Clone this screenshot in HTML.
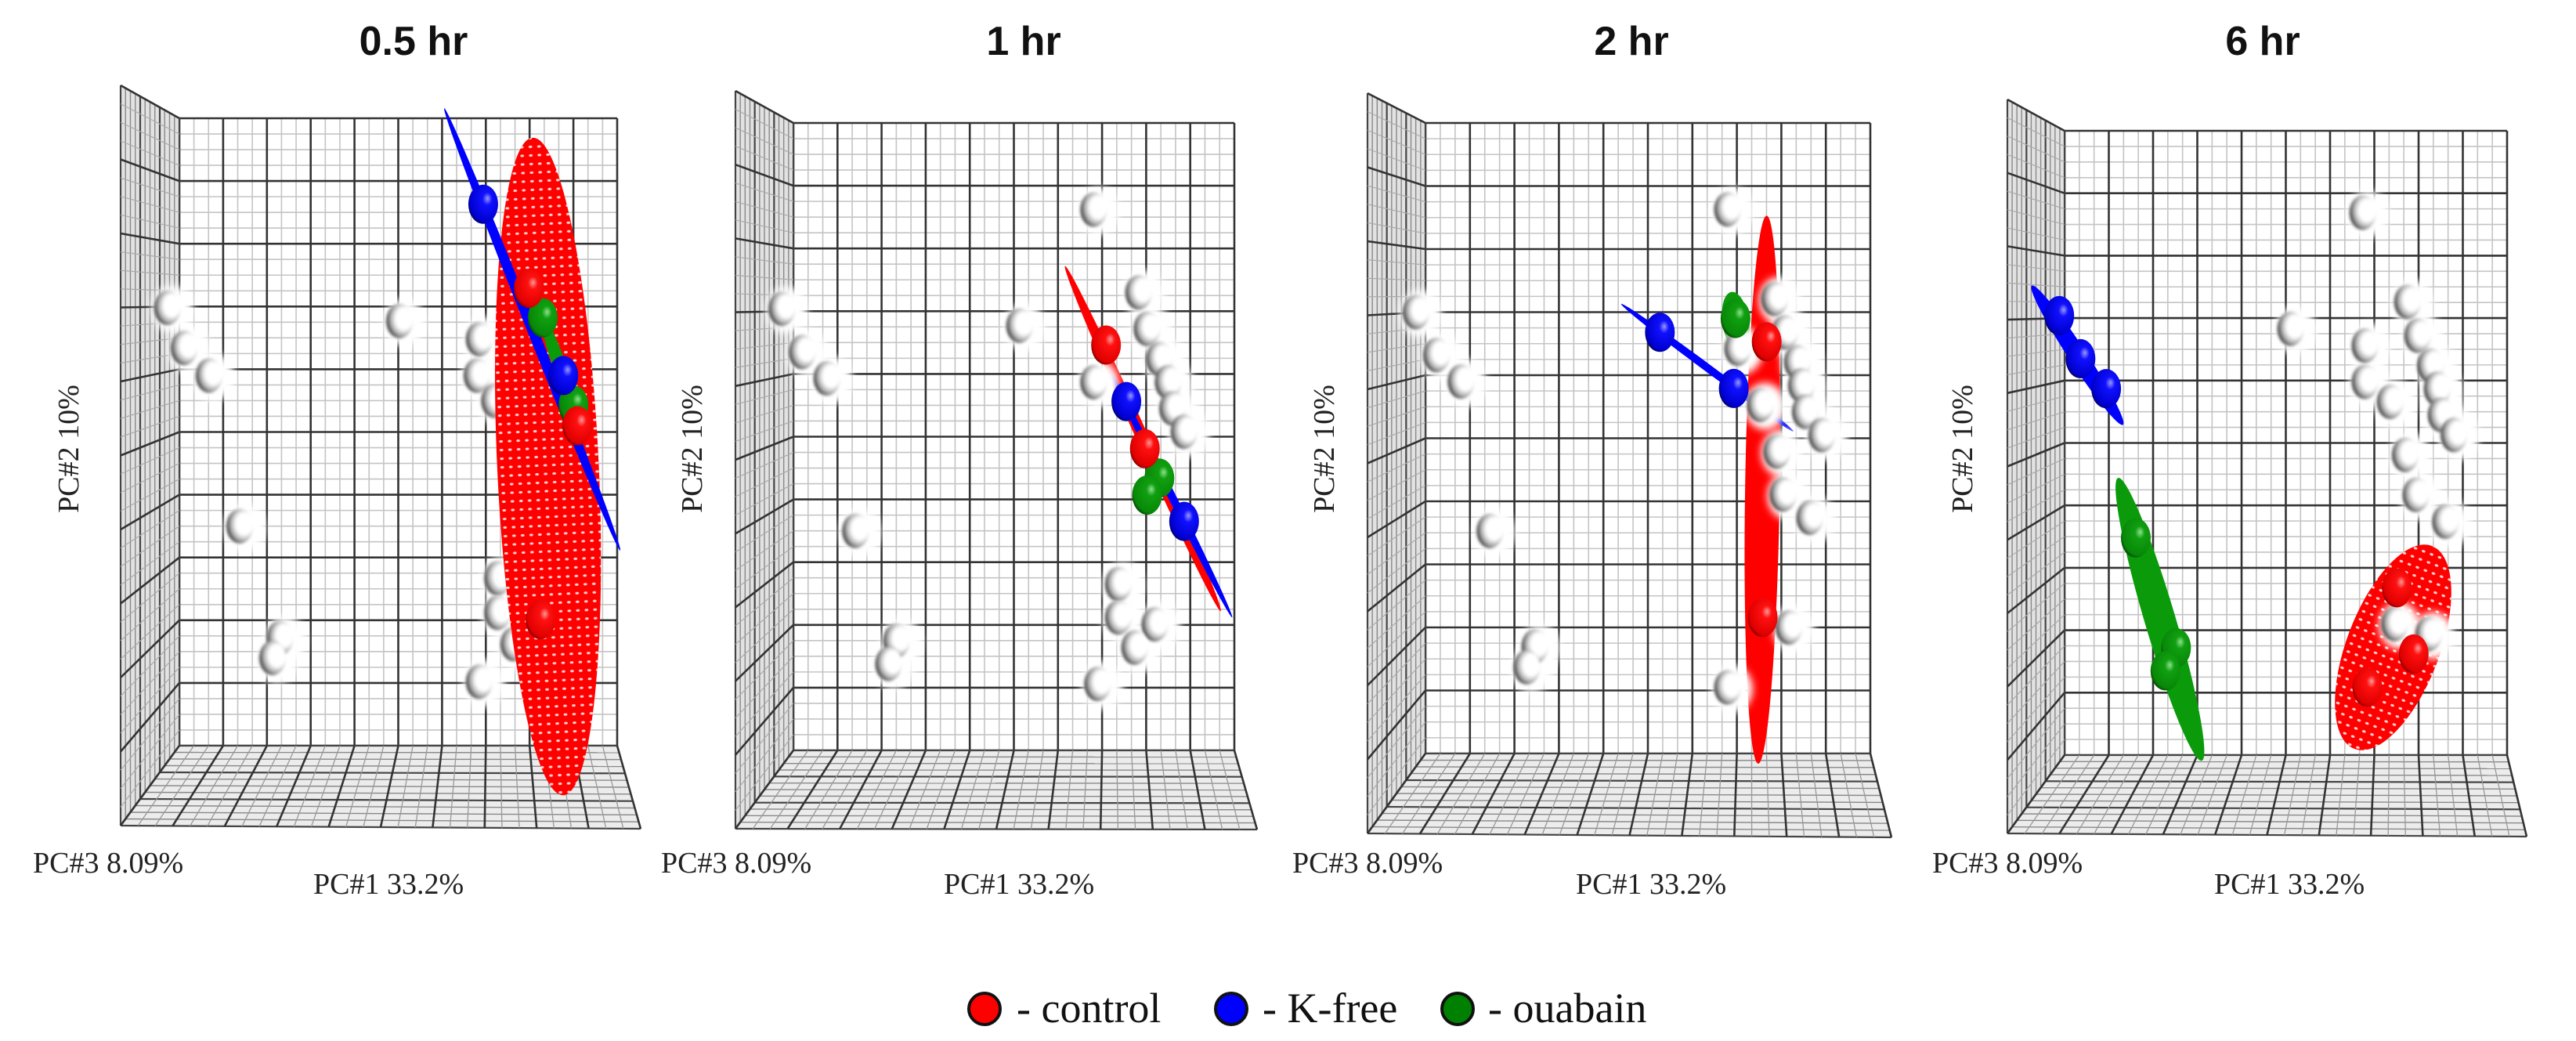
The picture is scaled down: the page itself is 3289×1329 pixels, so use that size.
<!DOCTYPE html>
<html><head><meta charset="utf-8">
<style>
html,body{margin:0;padding:0;background:#fff;}
svg{display:block;}
</style></head>
<body>
<svg id="chart" width="3289" height="1329" viewBox="0 0 3289 1329" xmlns="http://www.w3.org/2000/svg">
<defs>
  <radialGradient id="gWhite" cx="0.62" cy="0.45" r="0.62" fx="0.72" fy="0.42">
    <stop offset="0" stop-color="#fff"/><stop offset="0.5" stop-color="#fff"/>
    <stop offset="0.78" stop-color="#aaa"/><stop offset="1" stop-color="#222"/>
  </radialGradient>
  <radialGradient id="gRed" cx="0.6" cy="0.4" r="0.65" fx="0.65" fy="0.35">
    <stop offset="0" stop-color="#ff9a9a"/><stop offset="0.25" stop-color="#ff1010"/>
    <stop offset="0.85" stop-color="#e00000"/><stop offset="1" stop-color="#700"/>
  </radialGradient>
  <radialGradient id="gBlue" cx="0.6" cy="0.4" r="0.65" fx="0.65" fy="0.35">
    <stop offset="0" stop-color="#9a9aff"/><stop offset="0.25" stop-color="#1010ff"/>
    <stop offset="0.85" stop-color="#0000d0"/><stop offset="1" stop-color="#000060"/>
  </radialGradient>
  <radialGradient id="gGreen" cx="0.6" cy="0.4" r="0.65" fx="0.65" fy="0.35">
    <stop offset="0" stop-color="#8fe08f"/><stop offset="0.25" stop-color="#10a010"/>
    <stop offset="0.85" stop-color="#088808"/><stop offset="1" stop-color="#024002"/>
  </radialGradient>
  <filter id="blurHalo" x="-50%" y="-50%" width="200%" height="200%"><feGaussianBlur stdDeviation="5"/></filter>
  <filter id="blurBall" x="-30%" y="-30%" width="160%" height="160%"><feGaussianBlur stdDeviation="1.8"/></filter>
  <pattern id="mesh" width="11" height="11" patternUnits="userSpaceOnUse">
    <rect width="11" height="11" fill="#ff0000"/>
    <ellipse cx="5" cy="5" rx="1.6" ry="2.4" fill="#ffd0d0"/>
  </pattern>
</defs>
<g id="panels"></g>
<g id="legend">
  <g>
    <circle cx="1257" cy="1288" r="20" fill="#ff0000" stroke="#111" stroke-width="4"/>
    <text x="1298" y="1305" font-family="Liberation Serif, serif" font-size="54" fill="#111">- control</text>
  </g>
  <g>
    <circle cx="1572" cy="1288" r="20" fill="#0000ff" stroke="#111" stroke-width="4"/>
    <text x="1612" y="1305" font-family="Liberation Serif, serif" font-size="54" fill="#111">- K-free</text>
  </g>
  <g>
    <circle cx="1861" cy="1288" r="20" fill="#008000" stroke="#111" stroke-width="4"/>
    <text x="1900" y="1305" font-family="Liberation Serif, serif" font-size="54" fill="#111">- ouabain</text>
  </g>
</g>
</svg>
<script>
// ---- data (PC1 in grid units 0..10 left->right, PC2 in grid units 0..10 bottom->top) ----
const titles = ["0.5 hr", "1 hr", "2 hr", "6 hr"];

const whiteX_p1 = [-0.27,0.11,0.68,5.03,6.85,6.80,7.20,1.38,2.30,2.13,7.27,7.27,7.64,6.85];
const whiteY_p1 = [6.98,6.34,5.90,6.77,6.48,5.90,5.50,3.50,1.72,1.40,2.67,2.12,1.62,1.02];
const ctrlX_p1  = [7.98,9.09,8.25];
const ctrlY_p1  = [7.29,5.10,2.01];
const kfreeX_p1 = [6.94,8.77];
const kfreeY_p1 = [8.63,5.90];
const ouabX_p1  = [8.30,9.00];
const ouabY_p1  = [6.82,5.43];

const whiteX_p2 = [6.81,-0.26,0.20,0.76,5.13,7.83,8.02,8.30,8.50,8.60,8.86,6.81,1.41,2.34,2.16,7.37,7.37,8.20,7.74,6.90];
const whiteY_p2 = [8.62,7.04,6.35,5.93,6.77,7.30,6.72,6.24,5.87,5.45,5.08,5.87,3.50,1.75,1.38,2.65,2.12,2.01,1.64,1.06];
const ctrlX_p2  = [7.09,7.97];
const ctrlY_p2  = [6.46,4.81];
const kfreeX_p2 = [7.55,8.86];
const kfreeY_p2 = [5.56,3.65];
const ouabX_p2  = [8.30,8.02];
const ouabY_p2  = [4.34,4.07];

const whiteX_p3 = [6.79,-0.21,0.25,0.80,1.45,2.46,2.28,7.85,8.08,7.02,8.36,8.45,8.54,7.53,8.91,7.90,8.04,8.64,8.17,6.79];
const whiteY_p3 = [8.63,7.00,6.32,5.90,3.53,1.70,1.37,7.21,6.68,6.42,6.21,5.84,5.42,5.53,5.05,4.79,4.11,3.74,2.00,1.05];
const ctrlX_p3  = [7.67,7.58];
const ctrlY_p3  = [6.53,2.16];
const kfreeX_p3 = [5.27,6.93];
const kfreeY_p3 = [6.68,5.79];
const ouabX_p3  = [6.97];
const ouabY_p3  = [6.90];

const whiteX_p4 = [6.74,5.11,7.75,7.98,6.79,6.79,7.36,8.27,8.42,8.51,8.80,7.70,7.94,8.61,7.46,8.23];
const whiteY_p4 = [8.69,6.83,7.26,6.72,6.56,5.98,5.66,6.24,5.87,5.45,5.13,4.81,4.17,3.74,2.10,1.94];
const ctrlX_p4  = [7.51,7.89,6.84];
const ctrlY_p4  = [2.68,1.62,1.09];
const kfreeX_p4 = [-0.12,0.36,0.94];
const kfreeY_p4 = [7.04,6.35,5.87];
const ouabX_p4  = [1.61,2.52,2.28];
const ouabY_p4  = [3.48,1.72,1.35];

// ellipsoids: [x1, y1, x2, y2, halfWidth] in grid units (major axis endpoints)
const ctrlEll  = [[8.07,9.69,8.77,-0.79,1.16],[6.16,7.72,9.69,2.22,0.14],[7.67,8.53,7.48,-0.16,0.39],[6.55,0.1,8.3,3.35,1.05]];
const kfreeEll = [[6.05,10.16,10.07,3.11,0.12],[7.18,6.03,9.95,2.12,0.09],[4.40,7.13,8.27,5.11,0.06],[-0.74,7.52,1.32,5.29,0.2]];
const ouabEll  = [[8.30,6.82,9.0,5.43,0.15],null,[6.88,7.32,7.07,6.37,0.3],[1.21,4.44,3.10,-0.09,0.35]];

// ---- layout ----
const geom = [
 {bx0:229,bx1:788,by0:151,by1:952,lx:154,ly0:109,ly1:1054,fx:818,fy:1058,tx:528,pc2x:88,pc3x:42,pc1x:400,mesh:true,ellTop:true},
 {bx0:1013,bx1:1576,by0:157,by1:958,lx:939,ly0:116,ly1:1058,fx:1605,fy:1059,tx:1307,pc2x:884,pc3x:844,pc1x:1205,mesh:false,ellTop:false},
 {bx0:1820,bx1:2388,by0:157,by1:962,lx:1746,ly0:119,ly1:1064,fx:2415,fy:1069,tx:2083,pc2x:1691,pc3x:1650,pc1x:2012,mesh:false,ellTop:false},
 {bx0:2636,bx1:3201,by0:167,by1:964,lx:2563,ly0:127,ly1:1064,fx:3226,fy:1068,tx:2889,pc2x:2506,pc3x:2467,pc1x:2827,mesh:true,ellTop:false}
];
const whiteX=[whiteX_p1,whiteX_p2,whiteX_p3,whiteX_p4], whiteY=[whiteY_p1,whiteY_p2,whiteY_p3,whiteY_p4];
const ctrlX=[ctrlX_p1,ctrlX_p2,ctrlX_p3,ctrlX_p4], ctrlY=[ctrlY_p1,ctrlY_p2,ctrlY_p3,ctrlY_p4];
const kfreeX=[kfreeX_p1,kfreeX_p2,kfreeX_p3,kfreeX_p4], kfreeY=[kfreeY_p1,kfreeY_p2,kfreeY_p3,kfreeY_p4];
const ouabX=[ouabX_p1,ouabX_p2,ouabX_p3,ouabX_p4], ouabY=[ouabY_p1,ouabY_p2,ouabY_p3,ouabY_p4];

const NS="http://www.w3.org/2000/svg";
function mk(tag, attrs, parent){const e=document.createElementNS(NS,tag);for(const k in attrs)e.setAttribute(k,attrs[k]);parent.appendChild(e);return e;}
function line(p,x1,y1,x2,y2,c,w){mk('line',{x1,y1,x2,y2,stroke:c,'stroke-width':w},p);}
const root=document.getElementById('panels');

geom.forEach((g,pi)=>{
  const P=mk('g',{},root);
  
  
  const xS=v=>g.bx0+v*(g.bx1-g.bx0)/10;
  const yS=v=>g.by1-v*(g.by1-g.by0)/10;
  const unitX=(g.bx1-g.bx0)/10, unitY=(g.by1-g.by0)/10;

  const t=mk('text',{x:g.tx,y:70,'text-anchor':'middle','font-family':'Liberation Sans, Arial, sans-serif','font-weight':'bold','font-size':52,fill:'#111'},P);
  t.textContent=titles[pi];
  
  

  const bw=mk('g',{},P);
  
  
  mk('rect',{x:g.bx0,y:g.by0,width:g.bx1-g.bx0,height:g.by1-g.by0,fill:'#fff'},bw);
  for(let i=0;i<=30;i++){ if(i%3) line(bw,g.bx0+i*unitX/3,g.by0,g.bx0+i*unitX/3,g.by1,'#c4c4c4',1.6);}
  for(let i=0;i<=40;i++){ if(i%4) line(bw,g.bx0,g.by0+i*unitY/4,g.bx1,g.by0+i*unitY/4,'#c4c4c4',1.6);}
  for(let i=0;i<=10;i++){ line(bw,g.bx0+i*unitX,g.by0,g.bx0+i*unitX,g.by1,'#333',2.6); line(bw,g.bx0,g.by0+i*unitY,g.bx1,g.by0+i*unitY,'#333',2.6);}

  const lw=mk('g',{},P);
  
  
  mk('polygon',{points:`${g.lx},${g.ly0} ${g.bx0},${g.by0} ${g.bx0},${g.by1} ${g.lx},${g.ly1}`,fill:'#e2e2e2'},lw);
  const nv=12;
  for(let i=0;i<=nv;i++){const f=i/nv;const x=g.lx+f*(g.bx0-g.lx);line(lw,x,g.ly0+f*(g.by0-g.ly0),x,g.ly1+f*(g.by1-g.ly1),i%4===0?'#444':'#888',i%4===0?2.2:1.4);}
  for(let i=0;i<=40;i++){const a=g.ly0+i*(g.ly1-g.ly0)/40,b=g.by0+i*(g.by1-g.by0)/40; if(i%4) line(lw,g.lx,a,g.bx0,b,'#aaa',1.2);}
  for(let i=0;i<=10;i++){const a=g.ly0+i*(g.ly1-g.ly0)/10,b=g.by0+i*(g.by1-g.by0)/10; line(lw,g.lx,a,g.bx0,b,'#333',2.6);}

  const fl=mk('g',{},P);
  
  
  mk('polygon',{points:`${g.bx0},${g.by1} ${g.bx1},${g.by1} ${g.fx},${g.fy} ${g.lx},${g.ly1}`,fill:'#ececec'},fl);
  const nd=12;
  for(let j=0;j<=nd;j++){const f=j/nd;line(fl,g.bx0+f*(g.lx-g.bx0),g.by1+f*(g.ly1-g.by1),g.bx1+f*(g.fx-g.bx1),g.by1+f*(g.fy-g.by1),j%4===0?'#444':'#888',j%4===0?2.2:1.4);}
  for(let i=0;i<=30;i++){const f=i/30;const x1=g.bx0+f*(g.bx1-g.bx0),x2=g.lx+f*(g.fx-g.lx),y2=g.ly1+f*(g.fy-g.ly1); line(fl,x1,g.by1,x2,y2,i%3===0?'#333':'#999',i%3===0?2.6:1.3);}

  const drawEll=(e,fill,name)=>{
    if(!e) return;
    const x1=xS(e[0]),y1=yS(e[1]),x2=xS(e[2]),y2=yS(e[3]);
    const cx=(x1+x2)/2,cy=(y1+y2)/2,L=Math.hypot(x2-x1,y2-y1)/2,ang=Math.atan2(y2-y1,x2-x1)*180/Math.PI;
    const el=mk('ellipse',{cx,cy,rx:L,ry:Math.max(5,e[4]*unitX),fill,transform:`rotate(${ang} ${cx} ${cy})`},P);
    
    
  };
  const drawEllipsoids=()=>{
    drawEll(ctrlEll[pi],(g.mesh?'url(#mesh)':'#ff0000'),'control-ellipsoid');
    drawEll(ouabEll[pi],'#0a9a0a','ouabain-ellipsoid');
    drawEll(kfreeEll[pi],'#0000ff','k-free-ellipsoid');
  };
  if(!g.ellTop) drawEllipsoids();
  whiteX[pi].forEach((v,i)=>{
    const h=mk('ellipse',{cx:xS(v)+6,cy:yS(whiteY[pi][i])+2,rx:26,ry:30,fill:'#fff',filter:'url(#blurHalo)'},P);
    
    
  });
  whiteX[pi].forEach((v,i)=>{
    const c=mk('ellipse',{cx:xS(v),cy:yS(whiteY[pi][i]),rx:17,ry:22,fill:'url(#gWhite)',filter:'url(#blurBall)'},P);
    
    
  });
  if(g.ellTop) drawEllipsoids();
  const balls=(xs,ys,grad,name)=>xs.forEach((v,i)=>{
    const c=mk('ellipse',{cx:xS(v),cy:yS(ys[i]),rx:19,ry:25,fill:grad},P);
    
    
  });
  balls(ouabX[pi],ouabY[pi],'url(#gGreen)','ouabain-point');
  balls(ctrlX[pi],ctrlY[pi],'url(#gRed)','control-point');
  balls(kfreeX[pi],kfreeY[pi],'url(#gBlue)','k-free-point');

  const lab=(txt,attrs,name)=>{const e=mk('text',Object.assign({'font-family':'Liberation Serif, serif','font-size':38,fill:'#222'},attrs),P);e.textContent=txt;
    
    };
  lab('PC#3 8.09%',{x:g.pc3x,y:1114},'z-axis-title');
  lab('PC#1 33.2%',{x:g.pc1x,y:1141},'x-axis-title');
  lab('PC#2 10%',{x:g.pc2x,y:573,'text-anchor':'middle',transform:`rotate(-90 ${g.pc2x} 573)`,dy:12},'y-axis-title');
});
</script>
</body></html>
